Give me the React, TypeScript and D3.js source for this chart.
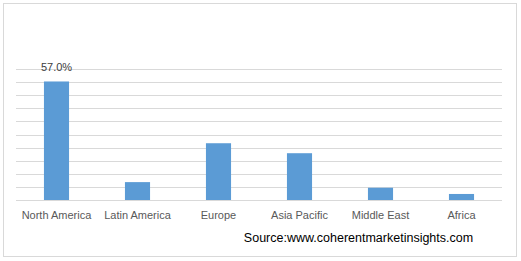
import React from "react";
import * as d3 from "d3";

const categories = ["North America", "Latin America", "Europe", "Asia Pacific", "Middle East", "Africa"];
const values = [57.0, 8.6, 27.3, 22.5, 5.9, 2.9];
const labeledIndex = 0;
const gridTicks = [0, 6.3, 12.6, 18.9, 25.2, 31.5, 37.8, 44.1, 50.4, 56.7, 63.0];
const sourceText = "Source:www.coherentmarketinsights.com";

const W = 521;
const H = 261;
const plotLeft = 16;
const plotRight = 502;
const plotTop = 69;
const plotBottom = 200;
const font = "'Liberation Sans', Arial, sans-serif";

export default function App() {
  const x = d3.scaleBand<string>().domain(categories).range([plotLeft, plotRight]).paddingInner(0.69).paddingOuter(0.345);
  const y = d3.scaleLinear().domain([0, 63]).range([plotBottom, plotTop]);
  return (
    <svg width={W} height={H} style={{ position: "fixed", left: 0, top: 0 }}>
      <rect x={0} y={0} width={W} height={H} fill="#fff" />
      <rect x={3.5} y={3.5} width={513} height={253} fill="#fff" stroke="#d9d9d9" strokeWidth={1} />
      {gridTicks.map((t, i) => (
        <line key={i} x1={plotLeft} x2={plotRight} y1={Math.round(y(t)) + 0.5} y2={Math.round(y(t)) + 0.5} stroke="#d9d9d9" strokeWidth={1} />
      ))}
      {categories.map((c, i) => (
        <rect key={c} x={x(c)} y={y(values[i])} width={x.bandwidth()} height={y(0) - y(values[i])} fill="#5b9bd5" />
      ))}
      {categories.map((c) => (
        <text key={c} x={(x(c) ?? 0) + x.bandwidth() / 2} y={219} textAnchor="middle" fontFamily={font} fontSize={11} fill="#595959">{c}</text>
      ))}
      <text x={(x(categories[labeledIndex]) ?? 0) + x.bandwidth() / 2} y={y(values[labeledIndex]) - 10} textAnchor="middle" fontFamily={font} fontSize={11} fill="#404040">
        {values[labeledIndex].toFixed(1) + "%"}
      </text>
      <text x={358.5} y={242} textAnchor="middle" fontFamily={font} fontSize={12.5} fill="#000">{sourceText}</text>
    </svg>
  );
}
